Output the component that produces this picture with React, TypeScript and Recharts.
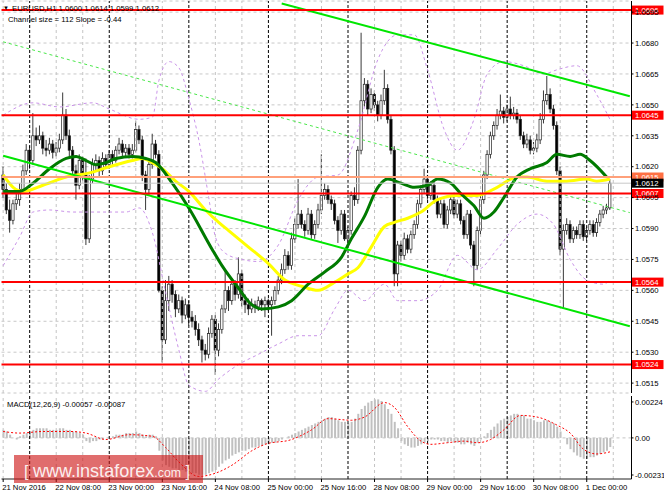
import React from 'react';
import { ComposedChart, Bar, Line, XAxis, YAxis, CartesianGrid, ReferenceLine } from 'recharts';

// EURUSD H1, 21 Nov 2016 16:00 .. 1 Dec 2016 07:00 (one value per hourly bar)
const OPEN = [
  1.0616, 1.0609, 1.0599, 1.0594, 1.0602, 1.0604, 1.0609, 1.0618, 1.0628, 1.0623,
  1.0635, 1.0633, 1.0635, 1.0629, 1.0628, 1.0631, 1.0627, 1.0629, 1.0633, 1.0645,
  1.0635, 1.0628, 1.0618, 1.0611, 1.0623, 1.0616, 1.0585, 1.0614, 1.0621, 1.0623,
  1.0618, 1.0624, 1.0621, 1.0626, 1.0623, 1.0628, 1.0631, 1.0627, 1.0629, 1.0626,
  1.0628, 1.0638, 1.0633, 1.0616, 1.0609, 1.0621, 1.0631, 1.0626, 1.0560, 1.0536,
  1.0555, 1.0563, 1.0558, 1.0551, 1.0555, 1.0548, 1.0553, 1.0547, 1.0545, 1.0541,
  1.0536, 1.0531, 1.0529, 1.0539, 1.0546, 1.0531, 1.0541, 1.0551, 1.0560, 1.0555,
  1.0563, 1.0558, 1.0568, 1.0555, 1.0553, 1.0551, 1.0553, 1.0552, 1.0555, 1.0553,
  1.0555, 1.0553, 1.0555, 1.0560, 1.0565, 1.0570, 1.0577, 1.0572, 1.0585, 1.0592,
  1.0597, 1.0592, 1.0589, 1.0597, 1.0587, 1.0592, 1.0599, 1.0606, 1.0609, 1.0604,
  1.0602, 1.0594, 1.0589, 1.0597, 1.0585, 1.0589, 1.0606, 1.0604, 1.0628, 1.0652,
  1.0660, 1.0648, 1.0655, 1.0650, 1.0645, 1.0652, 1.0658, 1.0643, 1.0628, 1.0568,
  1.0582, 1.0577, 1.0585, 1.0580, 1.0587, 1.0592, 1.0602, 1.0609, 1.0614, 1.0606,
  1.0611, 1.0604, 1.0597, 1.0602, 1.0592, 1.0599, 1.0604, 1.0597, 1.0602, 1.0594,
  1.0587, 1.0597, 1.0582, 1.0572, 1.0589, 1.0604, 1.0616, 1.0626, 1.0635, 1.0640,
  1.0645, 1.0647, 1.0644, 1.0648, 1.0645, 1.0646, 1.0643, 1.0635, 1.0631, 1.0633,
  1.0628, 1.0629, 1.0633, 1.0643, 1.0652, 1.0655, 1.0648, 1.0640, 1.0618, 1.0580,
  1.0589, 1.0592, 1.0585, 1.0589, 1.0587, 1.0592, 1.0586, 1.0589, 1.0592, 1.0588,
  1.0593, 1.0597, 1.0599, 1.0600,
];
const HIGH = [
  1.0620, 1.0612, 1.0604, 1.0604, 1.0607, 1.0612, 1.0621, 1.0631, 1.0630, 1.0646,
  1.0639, 1.0640, 1.0637, 1.0633, 1.0634, 1.0633, 1.0632, 1.0636, 1.0656, 1.0648,
  1.0638, 1.0630, 1.0621, 1.0626, 1.0625, 1.0624, 1.0616, 1.0624, 1.0626, 1.0625,
  1.0627, 1.0626, 1.0628, 1.0628, 1.0630, 1.0634, 1.0633, 1.0631, 1.0631, 1.0631,
  1.0642, 1.0640, 1.0635, 1.0618, 1.0623, 1.0636, 1.0633, 1.0628, 1.0562, 1.0565,
  1.0567, 1.0565, 1.0560, 1.0558, 1.0557, 1.0556, 1.0555, 1.0550, 1.0548, 1.0544,
  1.0538, 1.0534, 1.0542, 1.0548, 1.0548, 1.0544, 1.0553, 1.0570, 1.0562, 1.0566,
  1.0565, 1.0576, 1.0570, 1.0558, 1.0556, 1.0556, 1.0555, 1.0557, 1.0556, 1.0557,
  1.0556, 1.0557, 1.0562, 1.0567, 1.0573, 1.0580, 1.0579, 1.0588, 1.0595, 1.0614,
  1.0599, 1.0594, 1.0600, 1.0599, 1.0594, 1.0602, 1.0626, 1.0612, 1.0611, 1.0606,
  1.0604, 1.0596, 1.0599, 1.0599, 1.0591, 1.0608, 1.0610, 1.0630, 1.0685, 1.0663,
  1.0662, 1.0658, 1.0657, 1.0652, 1.0655, 1.0667, 1.0660, 1.0645, 1.0630, 1.0584,
  1.0584, 1.0588, 1.0587, 1.0589, 1.0594, 1.0604, 1.0611, 1.0619, 1.0616, 1.0613,
  1.0613, 1.0606, 1.0604, 1.0604, 1.0601, 1.0606, 1.0606, 1.0604, 1.0604, 1.0596,
  1.0599, 1.0599, 1.0584, 1.0591, 1.0606, 1.0618, 1.0628, 1.0637, 1.0642, 1.0648,
  1.0655, 1.0649, 1.0650, 1.0654, 1.0649, 1.0648, 1.0645, 1.0637, 1.0636, 1.0635,
  1.0632, 1.0636, 1.0646, 1.0657, 1.0664, 1.0658, 1.0650, 1.0642, 1.0620, 1.0592,
  1.0595, 1.0594, 1.0591, 1.0591, 1.0594, 1.0594, 1.0591, 1.0594, 1.0594, 1.0595,
  1.0599, 1.0601, 1.0602, 1.0614,
];
const LOW = [
  1.0605, 1.0597, 1.0588, 1.0592, 1.0599, 1.0601, 1.0607, 1.0616, 1.0619, 1.0621,
  1.0630, 1.0631, 1.0626, 1.0625, 1.0626, 1.0624, 1.0625, 1.0627, 1.0631, 1.0633,
  1.0624, 1.0615, 1.0604, 1.0609, 1.0613, 1.0582, 1.0583, 1.0612, 1.0618, 1.0615,
  1.0616, 1.0619, 1.0619, 1.0621, 1.0622, 1.0626, 1.0625, 1.0625, 1.0624, 1.0624,
  1.0627, 1.0631, 1.0613, 1.0599, 1.0606, 1.0619, 1.0624, 1.0559, 1.0525, 1.0534,
  1.0550, 1.0554, 1.0547, 1.0549, 1.0544, 1.0546, 1.0543, 1.0542, 1.0538, 1.0533,
  1.0525, 1.0526, 1.0527, 1.0537, 1.0519, 1.0528, 1.0539, 1.0549, 1.0550, 1.0553,
  1.0555, 1.0556, 1.0552, 1.0549, 1.0548, 1.0549, 1.0549, 1.0550, 1.0550, 1.0547,
  1.0550, 1.0538, 1.0553, 1.0558, 1.0563, 1.0568, 1.0570, 1.0570, 1.0583, 1.0590,
  1.0590, 1.0586, 1.0587, 1.0585, 1.0585, 1.0590, 1.0597, 1.0604, 1.0602, 1.0599,
  1.0592, 1.0583, 1.0587, 1.0584, 1.0583, 1.0587, 1.0601, 1.0602, 1.0626, 1.0649,
  1.0645, 1.0646, 1.0647, 1.0642, 1.0643, 1.0650, 1.0641, 1.0626, 1.0562, 1.0562,
  1.0574, 1.0575, 1.0578, 1.0578, 1.0585, 1.0590, 1.0600, 1.0607, 1.0604, 1.0604,
  1.0602, 1.0595, 1.0595, 1.0590, 1.0590, 1.0597, 1.0595, 1.0595, 1.0592, 1.0585,
  1.0585, 1.0580, 1.0562, 1.0570, 1.0587, 1.0602, 1.0614, 1.0624, 1.0633, 1.0638,
  1.0643, 1.0641, 1.0642, 1.0643, 1.0643, 1.0641, 1.0633, 1.0629, 1.0629, 1.0626,
  1.0626, 1.0627, 1.0631, 1.0641, 1.0650, 1.0646, 1.0638, 1.0616, 1.0577, 1.0551,
  1.0587, 1.0583, 1.0583, 1.0585, 1.0585, 1.0584, 1.0584, 1.0587, 1.0586, 1.0586,
  1.0591, 1.0595, 1.0597, 1.0599,
];
const CLOSE = [
  1.0609, 1.0599, 1.0594, 1.0602, 1.0604, 1.0609, 1.0618, 1.0628, 1.0623, 1.0635,
  1.0633, 1.0635, 1.0629, 1.0628, 1.0631, 1.0627, 1.0629, 1.0633, 1.0645, 1.0635,
  1.0628, 1.0618, 1.0611, 1.0623, 1.0616, 1.0585, 1.0614, 1.0621, 1.0623, 1.0618,
  1.0624, 1.0621, 1.0626, 1.0623, 1.0628, 1.0631, 1.0627, 1.0629, 1.0626, 1.0628,
  1.0638, 1.0633, 1.0616, 1.0609, 1.0621, 1.0631, 1.0626, 1.0560, 1.0536, 1.0555,
  1.0563, 1.0558, 1.0551, 1.0555, 1.0548, 1.0553, 1.0547, 1.0545, 1.0541, 1.0536,
  1.0531, 1.0529, 1.0539, 1.0546, 1.0531, 1.0541, 1.0551, 1.0560, 1.0555, 1.0563,
  1.0558, 1.0568, 1.0555, 1.0553, 1.0551, 1.0553, 1.0552, 1.0555, 1.0553, 1.0555,
  1.0553, 1.0555, 1.0560, 1.0565, 1.0570, 1.0577, 1.0572, 1.0585, 1.0592, 1.0597,
  1.0592, 1.0589, 1.0597, 1.0587, 1.0592, 1.0599, 1.0606, 1.0609, 1.0604, 1.0602,
  1.0594, 1.0589, 1.0597, 1.0585, 1.0589, 1.0606, 1.0604, 1.0628, 1.0652, 1.0660,
  1.0648, 1.0655, 1.0650, 1.0645, 1.0652, 1.0658, 1.0643, 1.0628, 1.0568, 1.0582,
  1.0577, 1.0585, 1.0580, 1.0587, 1.0592, 1.0602, 1.0609, 1.0614, 1.0606, 1.0611,
  1.0604, 1.0597, 1.0602, 1.0592, 1.0599, 1.0604, 1.0597, 1.0602, 1.0594, 1.0587,
  1.0597, 1.0582, 1.0572, 1.0589, 1.0604, 1.0616, 1.0626, 1.0635, 1.0640, 1.0645,
  1.0647, 1.0644, 1.0648, 1.0645, 1.0646, 1.0643, 1.0635, 1.0631, 1.0633, 1.0628,
  1.0629, 1.0633, 1.0643, 1.0652, 1.0655, 1.0648, 1.0640, 1.0618, 1.0580, 1.0589,
  1.0592, 1.0585, 1.0589, 1.0587, 1.0592, 1.0586, 1.0589, 1.0592, 1.0588, 1.0593,
  1.0597, 1.0599, 1.0600, 1.0612,
];

// indicator lines: [bar index, price]
const YELLOW_MA = [
  [0, 1.0616], [3, 1.0610], [6, 1.0608], [12, 1.0611], [19, 1.0615], [26, 1.0617], [32, 1.0620],
  [39, 1.0623], [42, 1.0624], [45, 1.0622], [48, 1.0619], [52, 1.0613], [56, 1.0608], [61, 1.0599],
  [65, 1.0593], [68, 1.0589], [74, 1.0581], [80, 1.0573], [85, 1.0565], [90, 1.0562], [95, 1.0560],
  [100, 1.0564], [104, 1.0568], [107, 1.0571], [111, 1.0581], [115, 1.0591], [118, 1.0593],
  [122, 1.0595], [126, 1.0598], [131, 1.0604], [137, 1.0606], [143, 1.0606], [149, 1.0610],
  [155, 1.0615], [158, 1.0615], [164, 1.0613], [170, 1.0613], [176, 1.0614], [179, 1.0613], [183, 1.0614],
];
const GREEN_MA = [
  [0, 1.0608], [5, 1.0608], [9, 1.0612], [14, 1.0619], [19, 1.0624], [22, 1.0625], [25, 1.0623],
  [28, 1.0621], [31, 1.0622], [34, 1.0624], [39, 1.0625], [43, 1.0624], [46, 1.0622], [51, 1.0612],
  [56, 1.0600], [63, 1.0580], [66, 1.0572], [71, 1.0561], [75, 1.0553], [78, 1.0551], [83, 1.0552],
  [87, 1.0555], [92, 1.0563], [97, 1.0569], [102, 1.0576], [105, 1.0585], [109, 1.0596], [113, 1.0610],
  [116, 1.0614], [120, 1.0612], [124, 1.0610], [128, 1.0611], [131, 1.0614], [135, 1.0612],
  [138, 1.0607], [142, 1.0601], [145, 1.0595], [148, 1.0598], [151, 1.0605], [155, 1.0615],
  [159, 1.0619], [164, 1.0622], [167, 1.0626], [171, 1.0625], [174, 1.0626], [177, 1.0623], [182, 1.0615],
];
const BAND_UPPER = [
  [0, 1.0645], [9, 1.0651], [17, 1.0649], [27, 1.0651], [32, 1.0648], [41, 1.0643], [45, 1.0644],
  [47, 1.0662], [50, 1.0671], [53, 1.0668], [56, 1.0653], [59, 1.0633], [62, 1.0605], [64, 1.0586],
  [67, 1.0578], [72, 1.0575], [77, 1.0574], [83, 1.0582], [89, 1.0604], [95, 1.0615], [101, 1.0616],
  [107, 1.0638], [113, 1.0672], [119, 1.0684], [124, 1.0684], [128, 1.0667], [133, 1.0638],
  [137, 1.0628], [142, 1.0643], [146, 1.0665], [151, 1.0671], [157, 1.0669], [163, 1.0665],
  [167, 1.0667], [173, 1.0669], [179, 1.0655], [183, 1.0643],
];
const BAND_LOWER = [
  [0, 1.0572], [5, 1.0586], [9, 1.0598], [14, 1.0599], [21, 1.0598], [26, 1.0598], [32, 1.0598],
  [37, 1.0598], [41, 1.0600], [45, 1.0588], [49, 1.0559], [53, 1.0531], [56, 1.0514], [61, 1.0511],
  [65, 1.0517], [71, 1.0524], [77, 1.0529], [83, 1.0534], [89, 1.0538], [95, 1.0538], [100, 1.0551],
  [104, 1.0560], [109, 1.0555], [115, 1.0563], [119, 1.0555], [125, 1.0555], [131, 1.0560],
  [137, 1.0577], [143, 1.0570], [149, 1.0580], [155, 1.0592], [161, 1.0597], [166, 1.0592],
  [171, 1.0575], [176, 1.0565], [181, 1.0563], [183, 1.0565],
];

// MACD(12,26,9): histogram per bar, signal line samples
const MACD_HIST = [
  0.0005, 0.0004, 0.0002, 0.0, -0.0001, 0.0001, 0.0002, 0.0003, 0.0004, 0.0005,
  0.0006, 0.0006, 0.0006, 0.0006, 0.0005, 0.0005, 0.0005, 0.0006, 0.0006, 0.0005,
  0.0005, 0.0004, 0.0004, 0.0003, 0.0002, -0.0002, -0.0003, -0.0002, -0.0002, -0.0001,
  -0.0001, 0.0, 0.0, 0.0001, 0.0002, 0.0002, 0.0002, 0.0003, 0.0003, 0.0003,
  0.0004, 0.0003, 0.0002, 0.0001, 0.0002, 0.0002, 0.0001, -0.0008, -0.0014, -0.0017,
  -0.0018, -0.0019, -0.0019, -0.002, -0.002, -0.0021, -0.0021, -0.0022, -0.0022, -0.0023,
  -0.0023, -0.0023, -0.0022, -0.0021, -0.002, -0.0018, -0.0016, -0.0014, -0.0013, -0.0011,
  -0.001, -0.0009, -0.0008, -0.0008, -0.0007, -0.0006, -0.0006, -0.0005, -0.0005, -0.0004,
  -0.0004, -0.0003, -0.0003, -0.0002, -0.0001, 0.0, 0.0001, 0.0002, 0.0003, 0.0004,
  0.0005, 0.0006, 0.0007, 0.0008, 0.0009, 0.001, 0.0011, 0.0012, 0.0013, 0.0013,
  0.0012, 0.0011, 0.001, 0.001, 0.0009, 0.001, 0.0012, 0.0015, 0.0018, 0.002,
  0.0022, 0.0023, 0.0024, 0.0024, 0.0023, 0.0021, 0.0018, 0.0015, 0.001, 0.0006,
  -0.0002, -0.0004, -0.0005, -0.0006, -0.0006, -0.0005, -0.0004, -0.0003, -0.0002, -0.0001,
  -0.0001, -0.0001, -0.0002, -0.0002, -0.0003, -0.0002, -0.0003, -0.0003, -0.0004, -0.0004,
  -0.0003, -0.0004, -0.0005, -0.0003, -0.0001, 0.0001, 0.0003, 0.0005, 0.0007, 0.0009,
  0.0011, 0.0012, 0.0013, 0.0014, 0.0015, 0.0015, 0.0014, 0.0014, 0.0012, 0.0012,
  0.0011, 0.001, 0.001, 0.0011, 0.0011, 0.001, 0.0009, 0.0007, 0.0004, 0.0,
  -0.0004, -0.0007, -0.0009, -0.0011, -0.0012, -0.0013, -0.0013, -0.0012, -0.0012, -0.0011,
  -0.001, -0.0009, -0.0008, -0.00057,
];
const MACD_SIGNAL = [
  [0, 0.0004], [5, 0.0003], [12, 0.0004], [20, 0.0004], [25, 0.0003], [31, -0.0001], [38, 0.0002],
  [45, 0.0001], [49, -0.0006], [53, -0.0015], [59, -0.0024], [64, -0.0022], [69, -0.0017],
  [75, -0.0008], [79, -0.0004], [87, -0.0001], [93, 0.0005], [98, 0.0012], [105, 0.0011],
  [109, 0.0013], [115, 0.0022], [118, 0.0019], [122, 0.0007], [126, -0.0002], [129, -0.0004],
  [134, -0.0003], [139, -0.0002], [143, -0.0003], [147, -0.0001], [151, 0.0005], [156, 0.0014],
  [161, 0.0013], [167, 0.0008], [171, 0.0003], [175, -0.0007], [179, -0.001], [183, -0.00087],
];

// drawn objects
const RED_LEVELS = [1.0696, 1.0645, 1.0607, 1.0564, 1.0524];
const ASK_LEVEL = 1.0615;
const BID_LEVEL = 1.0612;
const CHANNEL_UPPER = [[84, 1.06992], [189, 1.06542]];
const CHANNEL_MID = [[0, 1.06806], [189, 1.05977]];
const CHANNEL_LOWER = [[0, 1.06253], [189, 1.05426]];

const PRICE_TICKS = [1.0695, 1.068, 1.0665, 1.065, 1.0635, 1.062, 1.0605, 1.059, 1.0575, 1.056, 1.0545, 1.053, 1.0515];
const MACD_TICKS = [0.00224, 0, -0.00231];
const TIME_TICKS: [number, string][] = [
  [0, '21 Nov 2016'], [16, '22 Nov 08:00'], [32, '23 Nov 00:00'], [48, '23 Nov 16:00'],
  [64, '24 Nov 08:00'], [80, '25 Nov 00:00'], [96, '25 Nov 16:00'], [112, '28 Nov 08:00'],
  [128, '29 Nov 00:00'], [144, '29 Nov 16:00'], [160, '30 Nov 08:00'], [176, '1 Dec 00:00'],
];
const DAY_SEPARATORS = [8, 32, 56, 80, 104, 128, 152, 176];
const GRID_BARS = [0, 16, 24, 40, 48, 64, 72, 88, 96, 112, 120, 136, 144, 160, 168, 184];
const SLOTS = 190; // bars plus empty shift space on the right

const FONT = "'Liberation Sans', Arial, sans-serif";
const SMALL = 7.7;

const ROWS: any[] = Array.from({ length: SLOTS }, (_, i) => ({
  i,
  o: OPEN[i],
  h: HIGH[i],
  l: LOW[i],
  c: CLOSE[i],
  range: i < CLOSE.length ? [LOW[i], HIGH[i]] : undefined,
  macd: MACD_HIST[i],
}));
YELLOW_MA.forEach(([i, v]) => (ROWS[i].yel = v));
GREEN_MA.forEach(([i, v]) => (ROWS[i].grn = v));
BAND_UPPER.forEach(([i, v]) => (ROWS[i].bbU = v));
BAND_LOWER.forEach(([i, v]) => (ROWS[i].bbL = v));
MACD_SIGNAL.forEach(([i, v]) => (ROWS[i].sig = v));

function Candle(props: any) {
  const { x, y, width, height, payload } = props;
  if (!payload || payload.c == null || !isFinite(y) || !isFinite(height)) return null;
  const { o, h, l, c } = payload;
  const top = Math.min(y, y + height);
  const span = Math.abs(height);
  const py = (v: number) => (h === l ? top : top + ((h - v) / (h - l)) * span);
  const cx = x + width / 2;
  const bw = 2.3;
  const y1 = py(Math.max(o, c));
  const y2 = py(Math.min(o, c));
  return (
    <g>
      <line x1={cx} x2={cx} y1={top} y2={top + span} stroke="#222" strokeWidth={0.9} />
      <rect
        x={cx - bw / 2}
        y={y1}
        width={bw}
        height={Math.max(y2 - y1, 0.8)}
        fill={c >= o ? '#fff' : '#000'}
        stroke="#222"
        strokeWidth={0.7}
      />
    </g>
  );
}

function priceTag(text: string, bg: string, fg: string) {
  return (props: any) => {
    const vb = props.viewBox ?? {};
    const x = (vb.x ?? 0) + (vb.width ?? 0);
    const y = vb.y ?? 0;
    return (
      <g>
        <rect x={x + 0.5} y={y - 4.5} width={31.5} height={9} fill={bg} />
        <text x={x + 3.5} y={y} dy="0.36em" fontSize={SMALL} fill={fg} fontFamily={FONT}>
          {text}
        </text>
      </g>
    );
  };
}

function TimeTick(props: any) {
  const { x, y, payload } = props;
  const t = TIME_TICKS.find((tt) => tt[0] === payload.value);
  return (
    <text x={x - 1} y={y} dy="0.71em" fontSize={SMALL} fill="#000" textAnchor="start" fontFamily={FONT}>
      {t ? t[1] : ''}
    </text>
  );
}

function verticalLines() {
  return [
    ...GRID_BARS.map((b) => (
      <ReferenceLine key={'g' + b} x={b} stroke="#c4c4c4" strokeDasharray="3 3" />
    )),
    ...DAY_SEPARATORS.map((b) => (
      <ReferenceLine key={'d' + b} x={b} stroke="#000" strokeDasharray="3 2" />
    )),
  ];
}

function frameAxes(domain: [number, number]) {
  return [
    <XAxis key="ft" xAxisId="top" dataKey="i" orientation="top" height={0} tick={false} tickLine={false} axisLine={{ stroke: '#555' }} />,
    <YAxis key="fl" yAxisId="frame" orientation="left" width={0} domain={domain} tick={false} tickLine={false} axisLine={{ stroke: '#555' }} />,
  ];
}

export default function App() {
  return (
    <div style={{ position: 'relative', width: 664, height: 498, background: '#fff', fontFamily: FONT, overflow: 'hidden' }}>
      <style>{'body{margin:0}'}</style>

      <div style={{ position: 'absolute', left: 0, top: 0 }}>
        <ComposedChart width={664} height={396} data={ROWS} margin={{ top: 1, right: 0, bottom: 3, left: 1.5 }} barCategoryGap={0} barGap={0}>
          <CartesianGrid vertical={false} stroke="#c8c8c8" strokeDasharray="3 3" />
          <XAxis dataKey="i" height={0} tick={false} tickLine={false} axisLine={{ stroke: '#222' }} />
          <YAxis
            orientation="right"
            width={32.5}
            domain={[1.05102, 1.07004]}
            allowDataOverflow
            ticks={PRICE_TICKS}
            interval={0}
            tickFormatter={(v: number) => v.toFixed(4)}
            tick={{ fontSize: SMALL, fill: '#000' }}
            tickSize={2}
            tickMargin={1.5}
            axisLine={{ stroke: '#000' }}
            tickLine={{ stroke: '#000' }}
          />
          {frameAxes([0, 1])}
          {verticalLines()}
          <Line dataKey="bbU" stroke="#c993e8" strokeWidth={1} strokeDasharray="3 3" dot={false} connectNulls type="monotone" isAnimationActive={false} />
          <Line dataKey="bbL" stroke="#c993e8" strokeWidth={1} strokeDasharray="3 3" dot={false} connectNulls type="monotone" isAnimationActive={false} />
          <Bar dataKey="range" shape={(p: any) => <Candle {...p} />} isAnimationActive={false} />
          <Line dataKey="yel" stroke="#ffff00" strokeWidth={3} dot={false} connectNulls type="monotone" isAnimationActive={false} />
          <Line dataKey="grn" stroke="#007a00" strokeWidth={3} dot={false} connectNulls type="monotone" isAnimationActive={false} />
          <ReferenceLine
            segment={CHANNEL_MID.map(([x, y]) => ({ x, y }))}
            stroke="#4be84b"
            strokeDasharray="3 3"
          />
          <ReferenceLine segment={CHANNEL_UPPER.map(([x, y]) => ({ x, y }))} stroke="#00e600" strokeWidth={2} />
          <ReferenceLine segment={CHANNEL_LOWER.map(([x, y]) => ({ x, y }))} stroke="#00e600" strokeWidth={2} />
          <ReferenceLine y={ASK_LEVEL} stroke="#ffa07a" strokeWidth={2} label={priceTag(ASK_LEVEL.toFixed(4), '#ff7043', '#fff')} />
          <ReferenceLine y={BID_LEVEL} stroke="#c8c8c8" strokeWidth={1} label={priceTag(BID_LEVEL.toFixed(4), '#000', '#fff')} />
          {RED_LEVELS.map((p) => (
            <ReferenceLine key={p} y={p} stroke="#ff0000" strokeWidth={2} label={priceTag(p.toFixed(4), '#ff0000', '#fff')} />
          ))}
        </ComposedChart>
      </div>

      <div style={{ position: 'absolute', left: 0, top: 393 }}>
        <ComposedChart width={664} height={105} data={ROWS} margin={{ top: 3, right: 0, bottom: 0, left: 1.5 }} barCategoryGap={0}>
          <XAxis
            dataKey="i"
            height={19}
            ticks={TIME_TICKS.map((t) => t[0])}
            interval={0}
            tick={(p: any) => <TimeTick {...p} />}
            tickSize={3}
            tickMargin={3}
            tickLine={{ stroke: '#000' }}
            axisLine={{ stroke: '#222' }}
          />
          <YAxis
            orientation="right"
            width={32.5}
            domain={[-0.00256, 0.00261]}
            allowDataOverflow
            ticks={MACD_TICKS}
            interval={0}
            tickFormatter={(v: number) => (v === 0 ? '0.00' : v.toFixed(5))}
            tick={{ fontSize: SMALL, fill: '#000' }}
            tickSize={2}
            tickMargin={1.5}
            axisLine={{ stroke: '#000' }}
            tickLine={{ stroke: '#000' }}
          />
          {frameAxes([0, 1])}
          <ReferenceLine y={0} stroke="#c4c4c4" strokeDasharray="3 3" />
          {verticalLines()}
          <Bar dataKey="macd" fill="#c0c0c0" barSize={2} isAnimationActive={false} />
          <Line dataKey="sig" stroke="#ff0000" strokeWidth={1} strokeDasharray="2 2" dot={false} connectNulls type="monotone" isAnimationActive={false} />
        </ComposedChart>
      </div>

      <svg width={664} height={498} style={{ position: 'absolute', left: 0, top: 0, pointerEvents: 'none' }}>
        <g fontFamily={FONT} fontSize={SMALL} fill="#000">
          <text x={3} y={10} fontSize={6}>▼</text>
          <text x={12} y={10.5}>EURUSD,H1  1.0600 1.0614 1.0599 1.0612</text>
          <text x={8} y={21.5}>Channel size = 112 Slope = -0.44</text>
          <text x={7} y={406.5}>MACD(12,26,9) -0.00057 -0.00087</text>
        </g>
        <rect x={14} y={455} width={189} height={28} fill="rgba(205,20,20,0.62)" />
        <text x={24} y={477} fill="rgba(255,255,255,0.9)" fontFamily={FONT} fontSize={17} textLength={166} lengthAdjust="spacingAndGlyphs">
          <tspan>[ </tspan>
          <tspan fontSize={19}>www.instaforex</tspan>
          <tspan fontSize={13}>.com</tspan>
          <tspan> ]</tspan>
        </text>
      </svg>
    </div>
  );
}
